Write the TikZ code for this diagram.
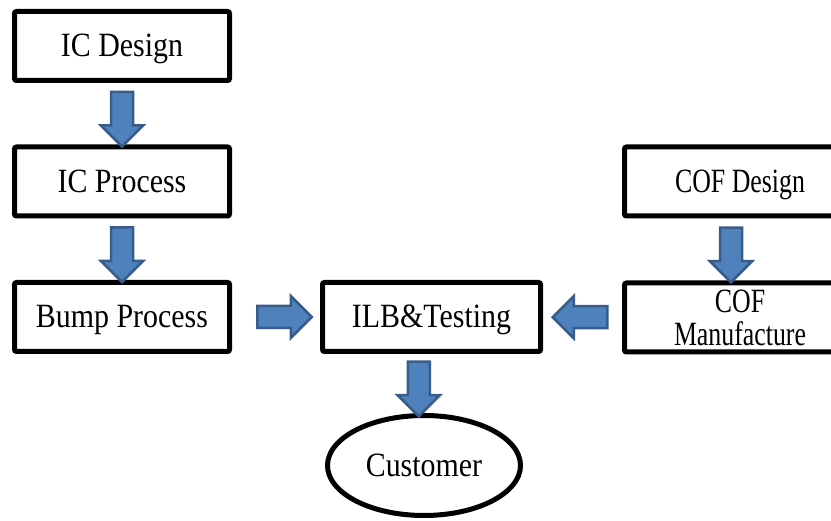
\documentclass[tikz,border=0pt]{standalone}
\usepackage{fontspec}
\setmainfont{Liberation Serif}
\newfontfamily\stagefont[FakeStretch=0.88]{Liberation Serif}
\newfontfamily\coffont[FakeStretch=0.76]{Liberation Serif}
\usepackage{tikz}
\usetikzlibrary{positioning,calc}
\usetikzlibrary{shapes.geometric,shapes.arrows}
\definecolor{FlowFill}{RGB}{79,129,189}
\definecolor{FlowLine}{RGB}{56,93,138}
\tikzset{
  stage/.style={draw=black,fill=white,line width=5pt,rounded corners=2pt,inner sep=0pt,
    minimum width=215pt,minimum height=69pt,align=center,text height=29pt,text depth=7pt,
    font=\stagefont\fontsize{34}{35}\selectfont},
  cofstage/.style={stage,minimum width=231pt,font=\coffont\fontsize{34}{35}\selectfont},
  client/.style={ellipse,draw=black,line width=5pt,inner sep=0pt,text height=29pt,text depth=7pt,
    minimum width=193pt,minimum height=100pt,font=\stagefont\fontsize{34}{35}\selectfont},
  flow/.style={single arrow,draw=FlowLine,fill=FlowFill,line width=2.5pt,inner xsep=0pt,
    inner ysep=9.75pt,minimum height=54.5pt,
    single arrow head extend=10pt,single arrow head indent=0pt},
}

\begin{document}
\begin{tikzpicture}[x=1pt,y=-1pt]
\useasboundingbox (0,0) rectangle (831,521);
\node[stage] (icd) at (122,46) {IC Design};
\node[stage] (icp) at (122,181.5) {IC Process};
\node[stage] (bump) at (122,317) {Bump Process};
\node[stage,minimum width=218pt] (ilb) at (431.5,317) {ILB\&Testing};
\node[cofstage] (cofd) at (740,181.5) {COF Design};
\node[cofstage,text height={},text depth={}] (cofm) at (740,317.5) {COF\\[-2pt]Manufacture};
\node[client] (cust) at (424,465.5) {Customer};
\node[flow,rotate=-90] (a1) at ($(icd.south)!0.5!(icp.north)$) {};
\node[flow,rotate=-90] (a2) at ($(icp.south)!0.5!(bump.north)$) {};
\node[flow,rotate=-90] (a3) at ($(cofd.south)!0.5!(cofm.north)+(-9,0)$) {};
\node[flow] (a4) at ($(bump.east)!0.5!(ilb.west)+(3,0)$) {};
\node[flow,rotate=180] (a5) at ($(ilb.east)!0.5!(cofm.west)+(3,0)$) {};
\node[flow,rotate=-90] (a6) at ($(ilb.south)!0.5!(cust.north)+(-9,0)$) {};
\end{tikzpicture}
\end{document}
